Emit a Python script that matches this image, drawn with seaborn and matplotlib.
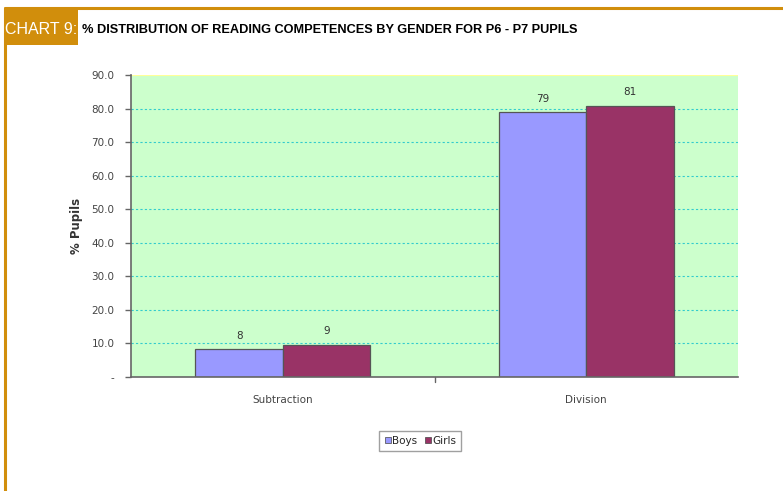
import matplotlib
matplotlib.use("Agg")
import matplotlib.pyplot as plt
import seaborn as sns
import pandas as pd
from matplotlib.patches import Rectangle
from matplotlib.lines import Line2D
from matplotlib import font_manager

skills = ["Subtraction", "Division"]
genders = ["Boys", "Girls"]
boys = [8.3, 78.9]
girls = [9.6, 80.9]
boys_labels = ["8", "79"]
girls_labels = ["9", "81"]
yticks = [0, 10, 20, 30, 40, 50, 60, 70, 80, 90]
ytick_labels = ["-", "10.0", "20.0", "30.0", "40.0", "50.0", "60.0", "70.0", "80.0", "90.0"]

df = pd.DataFrame({
    "skill": skills * 2,
    "gender": ["Boys"] * 2 + ["Girls"] * 2,
    "pct": boys + girls,
})

sns.set_style("white")
W, H = 783, 491
fig = plt.figure(figsize=(W / 100, H / 100), dpi=100)
ax = fig.add_axes([131 / W, 1 - 377 / H, 607 / W, 302 / H])

orange = "#D18E0C"
ax.set_facecolor("#CCFFCC")
sns.barplot(data=df, x="skill", y="pct", hue="gender", hue_order=genders,
            palette=["#9999FF", "#993366"], saturation=1, width=0.575,
            edgecolor="#555555", linewidth=0.9, ax=ax, legend=False)

for cont, labs in zip(ax.containers, [boys_labels, girls_labels]):
    ax.bar_label(cont, labels=labs, padding=6, fontsize=7.5, color="#333333")

ax.set_xlim(-0.5, 1.5)
ax.set_ylim(0, 90)
ax.set_yticks(yticks)
ax.set_yticklabels(ytick_labels, fontsize=7.5, color="#444444")
ax.set_xticks([0, 1])
ax.set_xticklabels(skills, fontsize=7.5, color="#444444")
ax.tick_params(axis="x", length=0, pad=13)
ax.tick_params(axis="y", length=4, width=1, color="#666666", direction="out",
               left=True, pad=8)
ax.plot([0.5, 0.5], [0, -1.4], color="#666666", lw=1, clip_on=False)
ax.set_xlabel("")
ax.set_ylabel("% Pupils", fontsize=8.5, fontweight="bold", color="#333333", labelpad=6)
for y in yticks[1:-1]:
    ax.axhline(y, color="#33CCCC", lw=0.8, ls=(0, (2, 2)), zorder=0.5)
ax.axhline(90, color="#FFFF99", lw=0.8, zorder=0.5)

for s in ["top", "right"]:
    ax.spines[s].set_visible(False)
for s in ["left", "bottom"]:
    ax.spines[s].set_color("#666666")
    ax.spines[s].set_linewidth(1.2)

handles = [Line2D([], [], marker="s", ls="", markersize=5, markerfacecolor=c,
                  markeredgecolor="#444444", markeredgewidth=0.5)
           for c in ["#9999FF", "#993366"]]
fig.legend(handles, genders, loc="center", bbox_to_anchor=(420 / W, 1 - 441 / H),
           ncol=2, fontsize=7.5, frameon=True, fancybox=False, edgecolor="#888888",
           handletextpad=0.05, columnspacing=0.6, borderpad=0.45, handlelength=0.8)

# frame and title banner
names = {f.name for f in font_manager.fontManager.ttflist}
fam = ["Liberation Sans", "DejaVu Sans"] if "Liberation Sans" in names else ["DejaVu Sans"]

fig.add_artist(Line2D([5 / W, 1], [1 - 8 / H, 1 - 8 / H], color=orange, lw=2.2))
fig.add_artist(Line2D([5 / W, 5 / W], [0, 1 - 8 / H], color=orange, lw=2.2))
fig.add_artist(Rectangle((5 / W, 1 - 45 / H), 73 / W, 35 / H, color=orange, lw=0))
fig.text(41 / W, 1 - 29 / H, "CHART 9:", color="white", fontsize=11.5,
         family=fam, ha="center", va="center")
fig.text(82 / W, 1 - 30 / H, "% DISTRIBUTION OF READING COMPETENCES BY GENDER FOR P6 - P7 PUPILS",
         color="black", fontsize=9.2, fontweight="bold",
         family=fam, ha="left", va="center")

fig.savefig("out.png", dpi=100)
